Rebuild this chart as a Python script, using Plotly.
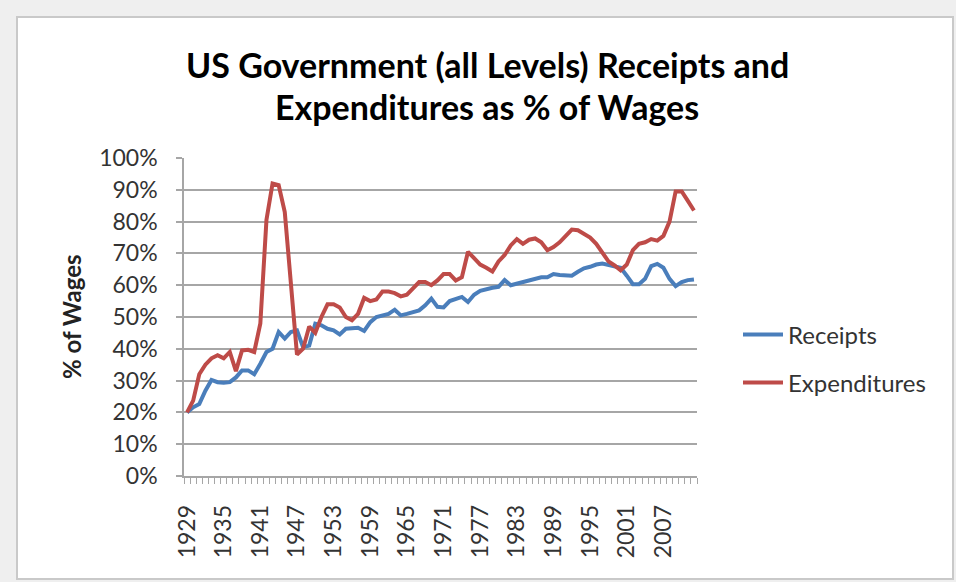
import plotly.graph_objects as go

years = list(range(1929, 2013))

receipts = [
    20.0, 21.6, 22.6, 26.8, 30.2, 29.5, 29.3, 29.5, 31.0, 33.2,
    33.2, 32.0, 35.3, 39.0, 40.0, 45.3, 43.2, 45.3, 45.8, 40.5,
    41.0, 47.9, 47.4, 46.3, 45.8, 44.5, 46.3, 46.6, 46.6, 45.6,
    48.4, 50.0, 50.5, 51.0, 52.3, 50.5, 51.0, 51.6, 52.1, 53.7,
    55.8, 53.2, 53.0, 55.0, 55.5, 56.3, 54.7, 57.0, 58.2, 58.8,
    59.2, 59.5, 61.6, 60.0, 60.5, 61.0, 61.6, 62.0, 62.5, 62.5,
    63.5, 63.2, 63.2, 63.0, 64.2, 65.3, 65.8, 66.5, 66.8, 66.3,
    65.8, 65.5, 63.0, 60.3, 60.3, 62.0, 66.0, 66.7, 65.5, 62.0,
    59.7, 61.0, 61.6, 61.8,
]

expenditures = [
    20.0, 23.7, 32.0, 35.0, 37.0, 38.0, 37.0, 39.0, 33.0, 39.5,
    39.7, 39.0, 48.0, 80.5, 92.0, 91.5, 83.0, 62.0, 38.2, 40.0,
    47.0, 45.0, 50.0, 54.0, 54.0, 53.0, 50.0, 49.0, 51.0, 56.0,
    55.0, 55.5, 58.0, 58.0, 57.5, 56.5, 57.0, 59.0, 61.0, 61.0,
    60.0, 61.5, 63.5, 63.5, 61.5, 62.5, 70.5, 68.5, 66.5, 65.5,
    64.3, 67.5, 69.5, 72.5, 74.5, 73.0, 74.3, 74.7, 73.5, 71.0,
    72.0, 73.5, 75.5, 77.5, 77.3, 76.0, 75.0, 73.0, 70.0, 67.5,
    66.2, 64.7, 66.5, 71.0, 73.0, 73.5, 74.5, 74.0, 75.5, 80.0,
    89.5, 89.5, 86.5, 83.5,
]

label_years = list(range(1929, 2013, 6))
y_ticks = list(range(0, 101, 10))

W, H = 956, 582
L, R, T, B = 184, 259, 158, 106
pw, ph = W - L - R, H - T - B


def px(x):
    return (x - L) / pw


def py(y):
    return (H - B - y) / ph


FONT = "Lato, 'Open Sans', sans-serif"
BLUE = "#4A7EBB"
RED = "#BE4B48"
GRID = "#a6a6a6"

fig = go.Figure()
fig.add_trace(go.Scatter(
    x=years, y=receipts, mode="lines", name="Receipts",
    line=dict(color=BLUE, width=4), legend="legend"
))
fig.add_trace(go.Scatter(
    x=years, y=expenditures, mode="lines", name="Expenditures",
    line=dict(color=RED, width=4), legend="legend2"
))

# white chart frame on grey background
fig.add_shape(
    type="rect", xref="paper", yref="paper", layer="below",
    x0=px(17), x1=px(953), y0=py(579), y1=py(17),
    fillcolor="white", line=dict(color="#c9c9c9", width=2)
)

fig.add_annotation(
    text="<b>US Government (all Levels) Receipts and</b>",
    xref="paper", yref="paper", x=px(487), y=py(65),
    xanchor="center", yanchor="middle",
    showarrow=False, font=dict(family=FONT, size=34, color="black")
)
fig.add_annotation(
    text="<b>Expenditures as % of Wages</b>",
    xref="paper", yref="paper", x=px(487), y=py(107),
    xanchor="center", yanchor="middle",
    showarrow=False, font=dict(family=FONT, size=34, color="black")
)
fig.add_annotation(
    text="<b>% of Wages</b>", textangle=-90,
    xref="paper", yref="paper", x=px(71), y=py(317),
    xanchor="center", yanchor="middle",
    showarrow=False, font=dict(family=FONT, size=24, color="#222")
)

legend_style = dict(
    font=dict(family=FONT, size=24, color="#333"),
    bgcolor="rgba(0,0,0,0)", xanchor="left", yanchor="middle",
    itemwidth=40,
)

fig.update_layout(
    width=W, height=H,
    margin=dict(l=L, r=R, t=T, b=B),
    paper_bgcolor="#efefef",
    plot_bgcolor="white",
    showlegend=True,
    legend=dict(x=px(738), y=py(335), **legend_style),
    legend2=dict(x=px(738), y=py(383), **legend_style),
    xaxis=dict(
        range=[1928.5, 2012.5],
        tickmode="array", tickvals=label_years,
        ticktext=[str(y) for y in label_years],
        tickangle=-90, ticks="", showgrid=False,
        ticklabelstandoff=18,
        tickfont=dict(family=FONT, size=23, color="#333"),
        showline=True, linecolor=GRID, linewidth=1.5,
        minor=dict(tickmode="linear", tick0=1928.5, dtick=1, ticks="outside",
                   ticklen=6, tickcolor=GRID, tickwidth=1, showgrid=False),
        zeroline=False, fixedrange=True,
    ),
    yaxis=dict(
        range=[0, 100],
        tickvals=y_ticks,
        ticktext=[f"{v}%" for v in y_ticks],
        ticks="outside", ticklen=6, tickcolor=GRID, tickwidth=1.5,
        ticklabelstandoff=14,
        tickfont=dict(family=FONT, size=23, color="#333"),
        showgrid=True, gridcolor=GRID, gridwidth=1.5,
        showline=True, linecolor=GRID, linewidth=1.5,
        zeroline=False, fixedrange=True,
    ),
)

fig.write_html(
    "out.html",
    config={"displayModeBar": False},
    post_script="document.body.style.margin='0';"
                "document.body.style.background='#efefef';",
)
